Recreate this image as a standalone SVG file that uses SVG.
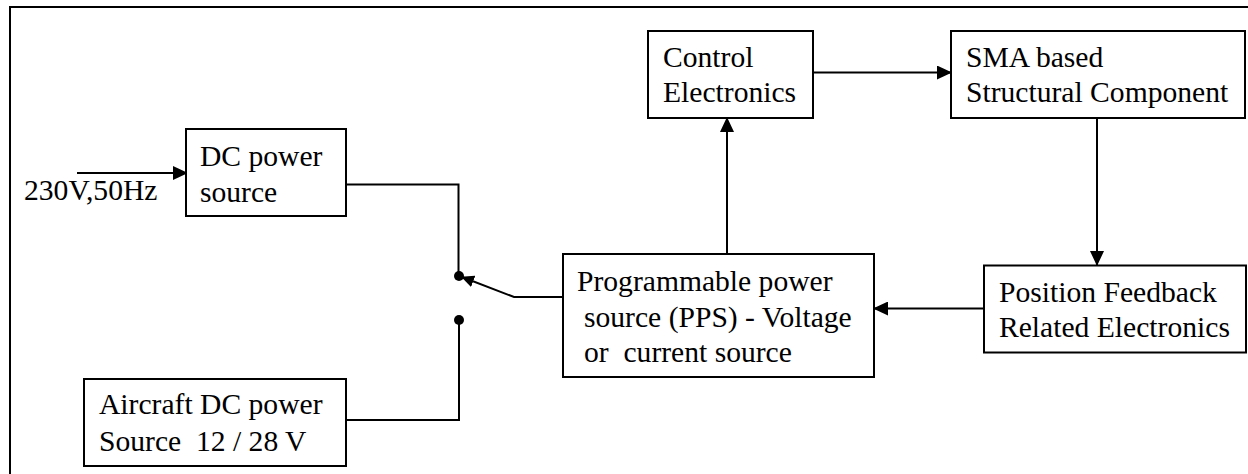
<svg xmlns="http://www.w3.org/2000/svg" width="1248" height="474" viewBox="0 0 1248 474">
<style>
.box{fill:#fff;stroke:#000;stroke-width:2}
.ln{fill:none;stroke:#000;stroke-width:2}
text{font-family:"Liberation Serif","Times New Roman",serif;font-size:29.6px;fill:#000}
</style>
<defs>
<marker id="ah" markerWidth="15" markerHeight="14" refX="14" refY="7" orient="auto" markerUnits="userSpaceOnUse">
<path d="M0,0 L15,7 L0,14 Z" fill="#000"/>
</marker>
<marker id="ahs" markerWidth="13" markerHeight="12" refX="12" refY="6" orient="auto" markerUnits="userSpaceOnUse">
<path d="M0,0 L13,6 L0,12 Z" fill="#000"/>
</marker>
</defs>
<rect width="1248" height="474" fill="#fff"/>
<path class="ln" d="M10,474 V7 H1248"/>
<g id="connectors">
<line class="ln" x1="77" y1="173" x2="187" y2="173" marker-end="url(#ah)"/>
<text x="24" y="200">230V,50Hz</text>
<path class="ln" d="M346,184.5 H458.5 V276"/>
<path class="ln" d="M563,297 H514 L462,277" marker-end="url(#ahs)"/>
<path class="ln" d="M459,320 V420 H346"/>
<circle cx="459" cy="276" r="5" fill="#000"/>
<circle cx="459" cy="320" r="5" fill="#000"/>
<line class="ln" x1="727" y1="254" x2="727" y2="118" marker-end="url(#ah)"/>
<line class="ln" x1="813" y1="72.5" x2="951" y2="72.5" marker-end="url(#ah)"/>
<line class="ln" x1="1097" y1="118" x2="1097" y2="265" marker-end="url(#ah)"/>
<line class="ln" x1="984" y1="308.5" x2="874" y2="308.5" marker-end="url(#ah)"/>
</g>
<g id="dc">
<rect class="box" x="186" y="129" width="160" height="87"/>
<text x="200" y="166">DC power</text>
<text x="200" y="202">source</text>
</g>
<g id="control">
<rect class="box" x="648" y="31" width="165" height="87"/>
<text x="663" y="67">Control</text>
<text x="663" y="102">Electronics</text>
</g>
<g id="sma">
<rect class="box" x="951" y="31" width="294" height="87"/>
<text x="966" y="67">SMA based</text>
<text x="966" y="102">Structural Component</text>
</g>
<g id="feedback">
<rect class="box" x="984" y="265.5" width="262" height="87"/>
<text x="999" y="302">Position Feedback</text>
<text x="999" y="337">Related Electronics</text>
</g>
<g id="pps">
<rect class="box" x="563" y="254" width="311" height="123"/>
<text x="577" y="291">Programmable power</text>
<text x="584" y="327">source (PPS) - Voltage</text>
<text x="584" y="362" xml:space="preserve">or  current source</text>
</g>
<g id="aircraft">
<rect class="box" x="84" y="379" width="262" height="87"/>
<text x="99" y="414">Aircraft DC power</text>
<text x="99" y="451" xml:space="preserve">Source  12 / 28 V</text>
</g>
</svg>
